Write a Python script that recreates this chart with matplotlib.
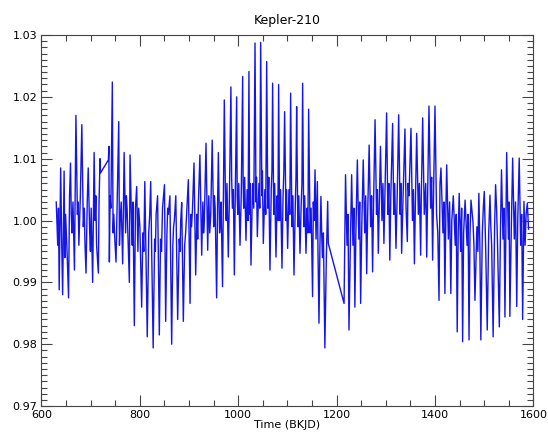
import matplotlib
matplotlib.use('Agg')
import matplotlib.pyplot as plt
from matplotlib.ticker import MultipleLocator, FormatStrFormatter

TITLE = 'Kepler-210'
XLABEL = 'Time (BKJD)'

# light curve, (time, flux) pairs; gaps are bridged by a straight line
time_q1 = [630, 633, 636, 639, 641, 643, 646, 649, 652, 655, 657, 659, 662, 664, 667, 670,
           673, 676, 679, 682, 685, 687, 690.5, 693, 695, 698, 701, 704, 707, 709, 712, 715.6,
           717, 719, 720]
flux_q1 = [1.003, 0.996, 0.9888, 1.0085, 0.997, 0.988, 1.008, 1.001, 0.995, 0.9875, 1.004, 1.0093,
           0.998, 1.003, 0.992, 1.017, 1.001, 0.996, 1.004, 1.0155, 0.999, 1.002, 0.9915, 1.003,
           1.0085, 0.998, 1.002, 0.990, 1.011, 1.000, 0.996, 0.9915, 1.003, 1.010, 1.0077]

time_q2 = [736, 737, 738, 741, 744, 747, 749, 751.5, 754, 757, 760, 762, 765, 768, 771, 774,
           778.6, 780, 783, 786, 788.7, 791, 793.5, 796, 800, 803.6, 806, 810, 812, 815, 818,
           822, 824, 827, 830, 833, 836, 839.5, 842, 846, 850, 852.4, 855, 858, 861, 864.6,
           867, 870, 873, 876.8, 880, 883, 885, 888.3, 891, 895, 898.5, 902, 905, 907, 910,
           913.4, 916, 919, 922, 925.6, 928, 931, 934.4, 937.8, 940, 944, 947, 950, 953, 956,
           958, 959.5, 962, 965, 968, 971.6, 974, 977, 979.7, 982, 985, 988, 990, 992, 994,
           996.7, 999, 1001, 1003.5, 1006, 1008.9, 1011, 1013, 1015.6, 1018, 1021.7, 1023,
           1024, 1025.8, 1029, 1034, 1036, 1037, 1038.7, 1042, 1045.5, 1048, 1049, 1050.9,
           1054, 1057.7, 1060, 1062, 1064.4, 1067, 1069.8, 1072, 1074, 1076.6, 1079, 1082,
           1084, 1086, 1088.8, 1091, 1094.2, 1097, 1098, 1100.3, 1103, 1106.4, 1109, 1111,
           1113.2, 1116, 1118.6, 1121, 1123, 1125.4, 1128, 1130.8, 1133, 1135, 1137.6, 1140,
           1143, 1146, 1148, 1151, 1154, 1156, 1158, 1160.7, 1162, 1164, 1166, 1168, 1171,
           1173, 1176, 1179, 1181.7, 1183]
flux_q2 = [1.0098, 1.012, 0.9933, 1.002, 1.0224, 1.001, 0.997, 0.9933, 1.004, 1.016, 1.000,
           1.003, 0.993, 1.011, 0.998, 1.002, 0.990, 1.0106, 1.000, 1.003, 0.983, 1.002, 1.0055,
           0.995, 0.999, 0.986, 0.998, 1.0063, 0.996, 0.9812, 0.998, 1.0063, 0.995, 0.9794,
           0.997, 1.001, 1.004, 0.9815, 0.997, 1.002, 1.0058, 0.9837, 0.998, 1.001, 1.004,
           0.980, 0.996, 1.000, 1.004, 0.984, 0.997, 1.000, 1.0029, 0.9837, 0.996, 1.001,
           1.0066, 0.9866, 0.999, 1.002, 1.0093, 0.9912, 1.001, 1.003, 1.0106, 0.9944, 1.003,
           1.000, 1.0125, 0.9952, 1.004, 1.001, 1.013, 0.999, 1.002, 0.9875, 1.003, 1.011,
           0.998, 1.003, 0.9893, 1.0195, 1.003, 1.006, 0.9941, 1.004, 1.0216, 1.002, 1.005,
           0.9912, 1.005, 1.020, 1.001, 1.006, 0.996, 1.004, 1.0233, 1.002, 1.007, 0.9968,
           1.005, 1.0241, 1.001, 1.006, 0.9928, 1.006, 1.0287, 1.003, 1.007, 0.9974, 1.006,
           1.0288, 1.004, 1.008, 0.9963, 1.005, 1.0257, 1.002, 1.007, 0.992, 1.005, 1.0222,
           1.001, 1.006, 0.9941, 1.004, 1.022, 1.000, 1.005, 0.9923, 1.004, 1.0176, 1.000,
           1.005, 0.9955, 1.005, 1.0206, 0.999, 1.004, 0.9912, 1.003, 1.0184, 0.999, 1.004,
           0.9947, 1.003, 1.0222, 0.999, 1.004, 0.9947, 1.002, 1.018, 0.998, 1.002, 0.9877,
           1.000, 1.0082, 0.997, 1.0063, 0.995, 0.9834, 0.996, 1.0039, 0.994, 0.998, 0.9794,
           0.994, 1.0031, 0.9963]

time_q3 = [1215, 1218, 1221, 1225, 1228, 1230.4, 1233, 1237, 1239, 1242, 1245, 1248.7, 1251,
           1254, 1257, 1261, 1263, 1266, 1269, 1273, 1275, 1278, 1281, 1284.6, 1287, 1289,
           1292, 1296, 1298, 1301.5, 1304, 1308, 1310, 1313.7, 1316, 1320.5, 1323, 1326, 1329,
           1332, 1335, 1338.8, 1341, 1343.6, 1347, 1351, 1354, 1358, 1360, 1362.6, 1366,
           1370.7, 1372, 1374.8, 1378, 1383, 1385, 1387.6, 1391, 1395, 1397, 1399.8, 1403,
           1408, 1410, 1412, 1416, 1420, 1422, 1423.6, 1427, 1432, 1434, 1437, 1441, 1445,
           1447, 1449, 1452, 1456, 1458, 1461, 1465, 1469, 1471, 1473, 1477, 1481, 1485, 1489,
           1491, 1493, 1496, 1500, 1503, 1506, 1509, 1511.6, 1515, 1518, 1521, 1523, 1527,
           1530.6, 1533, 1535, 1538, 1542, 1544, 1545.5, 1549, 1552, 1555, 1557.7, 1561, 1566,
           1568, 1571, 1574, 1578, 1580.7, 1583, 1587.5, 1590]
flux_q3 = [0.9866, 1.0074, 0.996, 0.9823, 0.997, 1.0074, 0.996, 0.986, 0.998, 1.0098, 0.997,
           0.9866, 0.999, 1.0098, 0.998, 0.9914, 1.001, 1.0122, 0.999, 0.9917, 1.003, 1.0163,
           1.001, 0.9947, 1.004, 1.012, 1.000, 0.9963, 1.004, 1.0174, 1.001, 0.9936, 1.004,
           1.0157, 1.001, 0.9955, 1.004, 1.0171, 1.001, 0.9947, 1.004, 1.0148, 1.002, 0.9966,
           1.004, 1.0149, 1.000, 0.993, 1.003, 1.0141, 1.001, 0.9944, 1.004, 1.0166, 1.001,
           0.9941, 1.005, 1.0185, 1.002, 0.9936, 1.005, 1.0185, 1.001, 0.9871, 1.006, 1.0085,
           0.998, 0.9882, 1.002, 1.009, 0.997, 0.9882, 1.000, 1.004, 0.996, 0.982, 0.998,
           1.0044, 0.995, 0.9804, 0.998, 1.0033, 0.996, 0.9807, 0.998, 1.0033, 0.9998, 0.9871,
           0.999, 1.0044, 0.996, 0.9807, 0.998, 1.0047, 0.995, 0.9823, 0.998, 1.0041, 0.996,
           0.9812, 0.999, 1.0058, 0.996, 0.9828, 0.999, 1.0082, 0.997, 0.9844, 1.000, 1.011,
           0.997, 0.9845, 0.999, 1.0101, 0.997, 0.9861, 1.000, 1.0101, 0.996, 0.984, 1.0031,
           0.996, 1.0028, 0.9986]

# extra small wiggles inside the dense middle band
time_mid = [634.5, 647.5, 660.5, 674.5, 688.5, 699.5, 710.5,
            739.5, 745.5, 758.5, 772.5, 784.5, 797.5, 808, 820, 831.5, 844, 856.5, 868.5,
            881.5, 893, 903.5, 917.5, 929.5, 942, 951.5, 963.5, 975.5, 986.5, 997.8, 1009.9,
            1019.8, 1031.5, 1043.7, 1055.8, 1068.4, 1080.5, 1092.6, 1104.7, 1117.3, 1129.4,
            1141.5, 1152.5, 1169.5,
            1223, 1235, 1246.8, 1259, 1271, 1282.8, 1294, 1306, 1318, 1330.5, 1345, 1356, 1368,
            1381, 1393, 1405.5, 1418, 1429.5, 1443, 1454, 1467, 1479, 1487, 1498, 1513.3, 1525,
            1540, 1550.5, 1563.5, 1576, 1585]
flux_mid = [1.002, 0.994, 1.001, 1.003, 0.996, 0.995, 1.004,
            1.004, 0.998, 0.996, 1.004, 0.996, 1.002, 0.995, 1.001, 0.995, 0.995, 1.002, 0.999,
            0.995, 0.998, 1.001, 0.997, 0.998, 0.998, 1.004, 1.000, 1.000, 1.007, 1.004, 1.006,
            1.000, 1.002, 1.002, 1.001, 1.008, 1.000, 1.008, 1.001, 1.007, 1.006,
            0.998, 1.003, 0.998,
            1.001, 1.002, 1.003, 1.004, 1.004, 1.005, 1.006, 1.006, 1.006, 1.006, 1.006, 1.005,
            1.006, 1.006, 1.007, 0.998, 1.003, 1.003, 1.001, 1.002, 1.001, 0.996, 0.995, 1.002,
            0.999, 1.002, 1.002, 1.003, 1.003, 1.001, 1.001]

pts = sorted(zip(time_q1 + time_q2 + time_q3 + time_mid,
                 flux_q1 + flux_q2 + flux_q3 + flux_mid))
time = [p[0] for p in pts]
flux = [p[1] for p in pts]

fig = plt.figure(figsize=(5.48, 4.32), dpi=100)
ax = fig.add_axes([0.0757, 0.060, 0.8978, 0.859])

ax.plot(time, flux, color='#1515e8', lw=1.0)

ax.set_xlim(600, 1600)
ax.set_ylim(0.97, 1.03)
ax.xaxis.set_major_locator(MultipleLocator(200))
ax.xaxis.set_minor_locator(MultipleLocator(50))
ax.yaxis.set_major_locator(MultipleLocator(0.01))
ax.yaxis.set_minor_locator(MultipleLocator(0.001))
ax.yaxis.set_major_formatter(FormatStrFormatter('%.2f'))

ax.tick_params(which='both', direction='in', top=True, right=True,
               color='#444444', labelsize=8, width=0.8)
ax.tick_params(which='major', length=8, pad=3)
ax.tick_params(which='minor', length=4)
for s in ax.spines.values():
    s.set_color('#444444')
    s.set_linewidth(0.8)

ax.set_title(TITLE, fontsize=9, pad=8)
ax.set_xlabel(XLABEL, fontsize=8, labelpad=0)

fig.savefig('out.png', dpi=100)
